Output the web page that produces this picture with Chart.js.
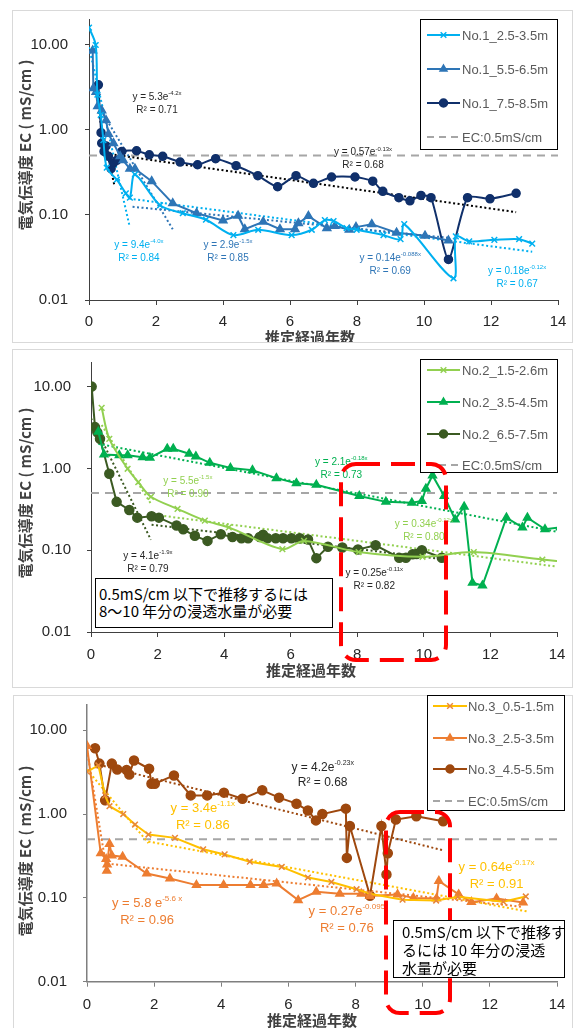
<!DOCTYPE html>
<html>
<head>
<meta charset="utf-8">
<script src="https://cdn.jsdelivr.net/npm/chart.js@4.4.1/dist/chart.umd.min.js"></script>
<style>
  body { margin: 0; background: #fff; width: 575px; height: 1028px; position: relative; overflow: hidden; }
  .panel { position: absolute; border: 1px solid #d9d9d9; box-sizing: border-box; }
  canvas { position: absolute; }
  svg { position: absolute; left: 0; top: 0; }
  .note { position: absolute; background: #fff; border: 1.5px solid #000; box-sizing: border-box;
          font-family: "Noto Sans CJK JP", sans-serif; font-size: 15px; color: #000; white-space: nowrap; }
</style>
</head>
<body>
<div class="panel" style="left:12px;top:10px;width:561px;height:333px"></div>
<div class="panel" style="left:12px;top:349px;width:561px;height:339px"></div>
<div class="panel" style="left:13px;top:695px;width:560px;height:340px"></div>
<canvas id="c1" width="560" height="332" style="left:12px;top:10px"></canvas>
<canvas id="c2" width="560" height="334" style="left:12px;top:350px"></canvas>
<canvas id="c3" width="559" height="333" style="left:13px;top:695px"></canvas>
<svg width="575" height="1028">
  <rect x="341" y="464" width="105" height="196" rx="15" fill="none" stroke="#ff0000" stroke-width="4" stroke-dasharray="24 11"/>
  <rect x="386" y="812" width="64" height="201" rx="14" fill="none" stroke="#ff0000" stroke-width="4" stroke-dasharray="24 11"/>
</svg>
<div class="note" style="left:95px;top:578px;width:238px;height:50px;line-height:17px;padding:6px 0 0 3px">0.5mS/cm 以下で推移するには<br>8～10 年分の浸透水量が必要</div>
<div class="note" style="left:393px;top:920px;width:172px;height:58px;line-height:18px;padding:2px 0 0 8px">0.5mS/cm 以下で推移す<br>るには 10 年分の浸透<br>水量が必要</div>

<script>
// axis ticks
const xTicks = [0, 2, 4, 6, 8, 10, 12, 14];
const yTicks = [0.01, 0.1, 1, 10];
const yTickLabels = ['0.01', '0.10', '1.00', '10.00'];

// EC threshold line
const ecX = [0, 14];
const ecY = [0.5, 0.5];

// ---- No.1
const no1a_x = [0, 0.2, 0.25, 0.35, 0.43, 0.53, 0.83, 1.1, 1.22, 1.37, 2.12, 2.8, 3.49, 4.31, 5.05, 6.05, 6.65, 7.04, 7.3, 7.69, 7.99, 8.79, 9.3, 9.41, 10.88, 10.95, 11.35, 12.1, 12.84, 13.23];
const no1a_y = [16, 10, 2.6, 1.5, 0.76, 0.36, 0.26, 0.18, 0.16, 0.3, 0.13, 0.105, 0.088, 0.058, 0.067, 0.058, 0.067, 0.087, 0.085, 0.07, 0.067, 0.058, 0.052, 0.078, 0.018, 0.056, 0.049, 0.051, 0.052, 0.046];
const no1b_x = [0.11, 0.13, 0.21, 0.26, 0.38, 0.51, 0.58, 0.73, 0.93, 1.02, 1.22, 1.37, 1.87, 2.5, 3.21, 4.0, 4.45, 4.65, 5.2, 5.7, 6.15, 6.25, 6.55, 7.1, 7.34, 7.77, 7.97, 8.44, 9.18, 10.03, 10.73];
const no1b_y = [8.6, 3.1, 2.8, 1.9, 1.7, 1.3, 0.9, 0.7, 0.49, 0.44, 0.35, 0.35, 0.25, 0.137, 0.105, 0.086, 0.098, 0.068, 0.083, 0.068, 0.068, 0.08, 0.097, 0.07, 0.074, 0.067, 0.072, 0.078, 0.062, 0.057, 0.05];
const no1c_x = [0.28, 0.36, 0.38, 0.45, 0.51, 0.58, 0.66, 0.73, 0.83, 0.98, 1.42, 1.8, 2.2, 2.72, 3.24, 3.78, 4.39, 5.04, 5.63, 6.18, 6.7, 7.24, 7.94, 8.47, 8.77, 9.25, 9.58, 9.91, 10.21, 10.73, 11.3, 11.97, 12.75];
const no1c_y = [3.4, 0.93, 0.7, 0.56, 0.65, 0.49, 0.35, 0.41, 0.44, 0.56, 0.57, 0.51, 0.49, 0.42, 0.39, 0.46, 0.38, 0.29, 0.215, 0.29, 0.236, 0.28, 0.28, 0.25, 0.19, 0.16, 0.147, 0.17, 0.16, 0.03, 0.16, 0.155, 0.18];
// approximate trendline end points
const no1_fit_x = [[0, 1.2], [0.25, 2.5], [0.28, 0.75], [0.63, 12.75], [1.3, 10.73], [1.2, 13.23]];
const no1_fit_y = [[9.4, 0.077], [2.0, 0.068], [1.63, 0.23], [0.52, 0.108], [0.125, 0.054], [0.156, 0.037]];

// ---- No.2
const no2a_x = [0.32, 0.55, 1.1, 1.42, 1.8, 2.6, 3.42, 4.14, 5.75, 6.4, 8.04, 9.96, 11.5, 13.56, 14.4];
const no2a_y = [5.5, 2.3, 0.99, 0.68, 0.45, 0.32, 0.23, 0.19, 0.103, 0.13, 0.095, 0.083, 0.095, 0.077, 0.071];
const no2b_x = [0.22, 0.39, 0.85, 1.1, 1.55, 1.77, 2.29, 2.47, 2.95, 3.15, 3.57, 4.19, 4.85, 5.57, 6.17, 6.77, 8.06, 8.86, 9.64, 9.94, 10.06, 10.26, 10.61, 10.94, 11.21, 11.46, 11.76, 12.48, 12.96, 13.11, 13.64, 14.1];
const no2b_y = [2.8, 1.48, 1.45, 1.45, 1.37, 1.35, 1.74, 1.74, 1.51, 1.4, 1.17, 1.01, 0.95, 0.76, 0.66, 0.63, 0.46, 0.39, 0.38, 0.4, 0.565, 0.82, 0.46, 0.237, 0.34, 0.04, 0.037, 0.25, 0.19, 0.25, 0.18, 0.19];
const no2c_x = [0.02, 0.12, 0.19, 0.27, 0.55, 0.77, 1.15, 1.39, 1.82, 2.04, 2.57, 2.77, 3.12, 3.5, 3.9, 4.25, 4.52, 4.72, 5.07, 5.17, 5.3, 5.55, 5.77, 6.02, 6.27, 6.52, 6.77, 7.12, 7.55, 8.02, 8.55, 9.26, 9.46, 9.66, 9.78, 9.94, 10.54];
const no2c_y = [10, 3.2, 2.76, 2.3, 0.86, 0.39, 0.31, 0.25, 0.26, 0.25, 0.2, 0.18, 0.15, 0.13, 0.157, 0.145, 0.14, 0.14, 0.145, 0.155, 0.14, 0.14, 0.14, 0.14, 0.14, 0.135, 0.08, 0.11, 0.108, 0.102, 0.115, 0.081, 0.081, 0.089, 0.09, 0.1, 0.081];
const no2_fit_x = [[0.32, 1.8], [1.8, 14], [0.22, 14], [0, 1.8], [1.82, 10.54]];
const no2_fit_y = [[3.4, 0.37], [0.275, 0.063], [2.0, 0.168], [4.1, 0.134], [0.205, 0.078]];

// ---- No.3
const no3a_x = [0, 0.34, 0.54, 0.67, 1.08, 1.43, 1.83, 2.62, 3.46, 4.1, 4.85, 5.8, 6.58, 7.28, 8.03, 8.43, 9.4, 10.4, 11.05, 12.4, 13.07];
const no3a_y = [3.2, 3.8, 1.67, 1.24, 1.0, 0.75, 0.57, 0.52, 0.38, 0.33, 0.27, 0.234, 0.175, 0.155, 0.127, 0.112, 0.095, 0.093, 0.103, 0.09, 0.104];
const no3b_x = [0, 0.41, 0.57, 0.59, 0.6, 0.67, 0.74, 1.06, 1.78, 2.47, 3.26, 4.07, 4.87, 5.26, 5.65, 6.29, 6.83, 7.53, 8.17, 8.42, 9.25, 9.72, 10.41, 10.48, 11.07, 11.45, 12.2, 12.99];
const no3b_y = [6.5, 0.34, 0.29, 0.21, 0.25, 0.44, 0.32, 0.31, 0.195, 0.17, 0.142, 0.142, 0.142, 0.142, 0.148, 0.094, 0.118, 0.112, 0.112, 0.105, 0.11, 0.1, 0.098, 0.159, 0.11, 0.089, 0.098, 0.088];
const no3c_x = [0.24, 0.37, 0.54, 0.74, 0.9, 1.18, 1.26, 1.4, 1.85, 1.92, 2.02, 2.59, 3.09, 3.58, 4.08, 4.63, 5.22, 5.72, 6.24, 6.58, 6.82, 7.01, 7.71, 7.74, 7.83, 8.43, 8.77, 8.92, 8.96, 9.2, 9.81, 10.61];
const no3c_y = [6.1, 4.0, 1.46, 4.0, 3.4, 3.35, 2.97, 4.35, 3.47, 2.3, 2.3, 2.89, 1.67, 1.67, 1.8, 1.52, 1.92, 1.57, 1.33, 1.1, 0.84, 1.0, 1.16, 0.3, 0.72, 0.106, 0.72, 0.19, 0.34, 0.86, 0.94, 0.82];
const no3_fit_x = [[0, 1.83], [1.83, 13.1], [0, 0.6], [0.6, 13], [0.24, 10.6]];
const no3_fit_y = [[3.4, 0.45], [0.47, 0.069], [5.8, 0.2], [0.256, 0.078], [3.98, 0.37]];

// colours
const C = {
  sky: '#00b0f0', blue: '#2e75b6', navy: '#10306b',
  lime: '#92d050', green: '#00b050', moss: '#3b5a22',
  gold: '#ffc000', orange: '#ed7d31', brown: '#9e480e',
  ec: '#a6a6a6', dark: '#262626'
};

function pts(xs, ys) { return xs.map((x, i) => ({ x: x, y: ys[i] })); }

function series(xs, ys, color, marker, extra) {
  return Object.assign({
    data: pts(xs, ys), borderColor: color, backgroundColor: color,
    pointStyle: marker, pointRadius: 4, pointBorderColor: color, pointBackgroundColor: color,
    pointBorderWidth: 1.5, borderWidth: 2, tension: 0, fill: false
  }, extra || {});
}

function fits(fx, fy, colors) {
  return fx.map((seg, i) => ({
    data: pts(seg, fy[i]), borderColor: colors[i], borderWidth: 2, borderDash: [2, 2.5],
    pointRadius: 0, tension: 0, fill: false
  }));
}

function ecLine() {
  return { data: pts(ecX, ecY), borderColor: C.ec, borderWidth: 2, borderDash: [8, 6], pointRadius: 0, fill: false };
}

// draws equation labels, legend box and axis titles
const decor = {
  id: 'decor',
  afterDatasetsDraw(chart, args, o) {
    const ctx = chart.ctx, xs = chart.scales.x, ys = chart.scales.y;
    ctx.save();
    ctx.textBaseline = 'middle';
    o.eqs.forEach(e => {
      const cx = xs.getPixelForValue(e.x), cy = ys.getPixelForValue(e.y);
      const f = e.size, fs = Math.round(f * 0.62);
      ctx.font = f + 'px "Liberation Sans"';
      const w1 = ctx.measureText(e.base).width;
      ctx.font = fs + 'px "Liberation Sans"';
      const w2 = ctx.measureText(e.sup).width;
      const left = cx - (w1 + w2) / 2;
      ctx.fillStyle = e.color;
      ctx.textAlign = 'left';
      ctx.font = f + 'px "Liberation Sans"';
      ctx.fillText(e.base, left, cy);
      ctx.font = fs + 'px "Liberation Sans"';
      ctx.fillText(e.sup, left + w1, cy - f * 0.38);
      ctx.font = f + 'px "Liberation Sans"';
      ctx.textAlign = 'center';
      ctx.fillText('R\u00b2 = ' + e.r2, cx, cy + f * 1.3);
    });
    ctx.restore();
  },
  afterDraw(chart, args, o) {
    const ctx = chart.ctx;
    ctx.save();
    // legend
    const L = o.legend;
    ctx.fillStyle = '#fff';
    ctx.fillRect(L.box[0], L.box[1], L.box[2], L.box[3]);
    ctx.strokeStyle = '#000';
    ctx.lineWidth = 1;
    ctx.strokeRect(L.box[0] + 0.5, L.box[1] + 0.5, L.box[2] - 1, L.box[3] - 1);
    L.items.forEach((it, i) => {
      const y = L.rows[i];
      ctx.strokeStyle = it.color;
      ctx.lineWidth = 2;
      ctx.setLineDash(it.dash ? [7, 5] : []);
      ctx.beginPath();
      ctx.moveTo(L.lx[0], y);
      ctx.lineTo(L.lx[1], y);
      ctx.stroke();
      ctx.setLineDash([]);
      if (it.marker) {
        ctx.fillStyle = it.mcolor || it.color;
        ctx.strokeStyle = it.mcolor || it.color;
        ctx.lineWidth = 1.5;
        Chart.helpers.drawPoint(ctx, { pointStyle: it.marker, radius: 4, borderWidth: 1.5, rotation: 0 },
          (L.lx[0] + L.lx[1]) / 2, y);
      }
      ctx.fillStyle = '#595959';
      ctx.font = '13px "Liberation Sans"';
      ctx.textAlign = 'left';
      ctx.textBaseline = 'middle';
      ctx.fillText(it.label, L.tx, y + 1);
    });
    // axis titles
    ctx.fillStyle = '#404040';
    ctx.font = 'bold 15px "Noto Sans CJK JP"';
    ctx.textAlign = 'center';
    ctx.textBaseline = 'middle';
    ctx.fillText('推定経過年数', o.xTitle[0], o.xTitle[1]);
    ctx.translate(o.yTitle[0], o.yTitle[1]);
    ctx.rotate(-Math.PI / 2);
    ctx.fillText('電気伝導度 EC ( mS/cm )', 0, 0);
    ctx.restore();
  }
};

function makeChart(id, datasets, G, decorOpts) {
  const axisColor = G.axisColor || '#404040';
  return new Chart(document.getElementById(id), {
    type: 'line',
    data: { datasets: datasets },
    plugins: [decor],
    options: {
      responsive: false,
      animation: false,
      layout: { padding: { left: 0, right: G.right, top: G.top, bottom: 0 } },
      plugins: { legend: { display: false }, tooltip: { enabled: false }, decor: decorOpts },
      scales: {
        x: {
          type: 'linear', min: 0, max: 14,
          afterBuildTicks: s => { s.ticks = xTicks.map(v => ({ value: v })); },
          afterFit: s => { s.height = G.xh; s.paddingLeft = 0; s.paddingRight = 0; },
          ticks: { font: { family: 'Liberation Sans', size: 15 }, color: C.dark, padding: G.xpad, maxRotation: 0 },
          grid: { drawOnChartArea: false, tickLength: 5, color: axisColor },
          border: { color: axisColor, width: G.axisWidth || 1 }
        },
        y: {
          type: 'logarithmic', min: 0.01, max: 20,
          afterBuildTicks: s => { s.ticks = yTicks.map(v => ({ value: v })); },
          afterFit: s => { s.width = G.yw; s.paddingTop = 0; s.paddingBottom = 0; },
          ticks: { callback: (v, i) => yTickLabels[i], font: { family: 'Liberation Sans', size: 15 }, color: C.dark, padding: G.ypad },
          grid: { drawOnChartArea: false, tickLength: 4, color: axisColor },
          border: { color: axisColor, width: G.axisWidth || 1 }
        }
      }
    }
  });
}

// ---- chart 1
makeChart('c1', [
  series(no1a_x, no1a_y, C.sky, 'crossRot', { tension: 0.3 }),
  series(no1b_x, no1b_y, C.blue, 'triangle', { pointRadius: 4.5 }),
  series(no1c_x, no1c_y, C.navy, 'circle', { tension: 0.2 }),
  ...fits(no1_fit_x, no1_fit_y, [C.sky, C.blue, '#000', '#000', C.blue, C.sky]),
  ecLine()
], { yw: 77, right: 14, top: 9.4, xh: 42, xpad: 8, ypad: 17 }, {
  xTitle: [298, 327], yTitle: [13, 135],
  legend: {
    box: [408, 9, 138, 131], rows: [25, 59, 93, 127], lx: [415, 448], tx: 450,
    items: [
      { label: 'No.1_2.5-3.5m', color: C.sky, marker: 'crossRot' },
      { label: 'No.1_5.5-6.5m', color: C.blue, marker: 'triangle' },
      { label: 'No.1_7.5-8.5m', color: C.navy, marker: 'circle' },
      { label: 'EC:0.5mS/cm', color: C.ec, dash: true }
    ]
  },
  eqs: [
    { x: 2.03, y: 2.44, base: 'y = 5.3e', sup: '-4.2x', r2: '0.71', color: C.dark, size: 10 },
    { x: 1.49, y: 0.044, base: 'y = 9.4e', sup: '-4.0x', r2: '0.84', color: C.sky, size: 10 },
    { x: 4.15, y: 0.044, base: 'y = 2.9e', sup: '-1.5x', r2: '0.85', color: C.blue, size: 10 },
    { x: 8.18, y: 0.54, base: 'y = 0.57e', sup: '-0.13x', r2: '0.68', color: C.dark, size: 10 },
    { x: 8.99, y: 0.031, base: 'y = 0.14e', sup: '-0.088x', r2: '0.69', color: C.blue, size: 10 },
    { x: 12.78, y: 0.022, base: 'y = 0.18e', sup: '-0.12x', r2: '0.67', color: C.sky, size: 10 }
  ]
});

// ---- chart 2
makeChart('c2', [
  series(no2a_x, no2a_y, C.lime, 'crossRot', { tension: 0.3 }),
  series(no2b_x, no2b_y, C.green, 'triangle', { pointRadius: 4.5 }),
  series(no2c_x, no2c_y, C.moss, 'circle', { pointRadius: 4.5 }),
  ...fits(no2_fit_x, no2_fit_y, [C.lime, C.lime, C.green, C.moss, C.moss]),
  ecLine()
], { yw: 79, right: 15, top: 12, xh: 52, xpad: 9, ypad: 16 }, {
  xTitle: [299, 320], yTitle: [13, 143],
  legend: {
    box: [408, 9, 138, 114], rows: [20, 52, 84, 115], lx: [415, 448], tx: 450,
    items: [
      { label: 'No.2_1.5-2.6m', color: C.lime, marker: 'crossRot' },
      { label: 'No.2_3.5-4.5m', color: C.green, marker: 'triangle' },
      { label: 'No.2_6.5-7.5m', color: C.moss, marker: 'circle' },
      { label: 'EC:0.5mS/cm', color: C.ec, dash: true }
    ]
  },
  eqs: [
    { x: 2.91, y: 0.69, base: 'y = 5.5e', sup: '-1.5x', r2: '0.90', color: C.lime, size: 10 },
    { x: 1.71, y: 0.085, base: 'y = 4.1e', sup: '-1.9x', r2: '0.79', color: C.dark, size: 10 },
    { x: 7.52, y: 1.18, base: 'y = 2.1e', sup: '-0.18x', r2: '0.73', color: C.green, size: 10 },
    { x: 10.0, y: 0.207, base: 'y = 0.34e', sup: '-0.12x', r2: '0.80', color: C.lime, size: 10 },
    { x: 8.51, y: 0.052, base: 'y = 0.25e', sup: '-0.11x', r2: '0.82', color: C.dark, size: 10 }
  ]
});

// ---- chart 3
makeChart('c3', [
  series(no3a_x, no3a_y, C.gold, 'crossRot', { pointBorderColor: '#e8873a' }),
  series(no3b_x, no3b_y, C.orange, 'triangle', { pointRadius: 4.5 }),
  series(no3c_x, no3c_y, C.brown, 'circle', { pointRadius: 4.5 }),
  ...fits(no3_fit_x, no3_fit_y, [C.gold, C.gold, C.orange, C.orange, C.brown]),
  ecLine()
], { yw: 74, right: 15, top: 10, xh: 46.3, xpad: 9, ypad: 16, axisColor: '#7f7f7f', axisWidth: 1.5 }, {
  xTitle: [299, 325], yTitle: [12, 156],
  legend: {
    box: [414, 0, 138, 116], rows: [11, 43, 74, 106], lx: [420, 454], tx: 455,
    items: [
      { label: 'No.3_0.5-1.5m', color: C.gold, marker: 'crossRot', mcolor: '#e8873a' },
      { label: 'No.3_2.5-3.5m', color: C.orange, marker: 'triangle' },
      { label: 'No.3_4.5-5.5m', color: C.brown, marker: 'circle' },
      { label: 'EC:0.5mS/cm', color: C.ec, dash: true }
    ]
  },
  eqs: [
    { x: 7.02, y: 3.6, base: 'y = 4.2e', sup: '-0.23x', r2: '0.68', color: C.dark, size: 12 },
    { x: 3.45, y: 1.17, base: 'y = 3.4e', sup: '-1.1x', r2: '0.86', color: C.gold, size: 13 },
    { x: 1.79, y: 0.086, base: 'y = 5.8 e', sup: '-5.6 x', r2: '0.96', color: C.orange, size: 13 },
    { x: 7.74, y: 0.068, base: 'y = 0.27e', sup: '-0.095', r2: '0.76', color: C.orange, size: 13 },
    { x: 12.2, y: 0.23, base: 'y = 0.64e', sup: '-0.17x', r2: '0.91', color: C.gold, size: 13 }
  ]
});
</script>
</body>
</html>
